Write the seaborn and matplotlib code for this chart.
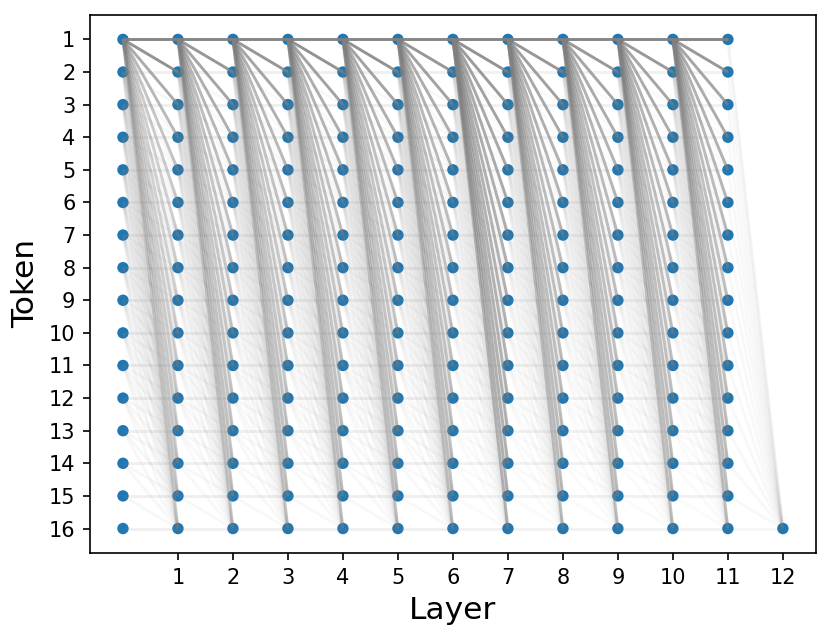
import matplotlib
matplotlib.use("Agg")
import matplotlib.pyplot as plt
import seaborn as sns
import pandas as pd
import numpy as np

n_tokens = 16
layers = list(range(0, 12))          # layers with a full column of tokens
final_layer = 12                     # only the last token is shown here
token_labels = [str(t) for t in range(1, 17)]
layer_ticks = list(range(1, 13))

# weight of the link from token 1 (sink) at layer l to token j at layer l+1
sink_w = [
    [0.95, 0.85, 0.65, 0.55, 0.45, 0.40, 0.35, 0.32, 0.30, 0.30, 0.28, 0.28, 0.27, 0.27, 0.26, 0.26],
    [0.95, 0.82, 0.70, 0.62, 0.55, 0.50, 0.46, 0.43, 0.40, 0.38, 0.36, 0.35, 0.35, 0.34, 0.34, 0.33],
    [0.95, 0.82, 0.70, 0.62, 0.55, 0.50, 0.46, 0.43, 0.40, 0.38, 0.36, 0.35, 0.35, 0.34, 0.34, 0.33],
    [0.95, 0.85, 0.72, 0.64, 0.58, 0.52, 0.48, 0.45, 0.42, 0.40, 0.38, 0.37, 0.36, 0.35, 0.35, 0.34],
    [0.95, 0.85, 0.72, 0.64, 0.58, 0.52, 0.48, 0.45, 0.42, 0.40, 0.38, 0.37, 0.36, 0.35, 0.35, 0.34],
    [0.95, 0.82, 0.72, 0.64, 0.58, 0.54, 0.50, 0.47, 0.44, 0.42, 0.40, 0.39, 0.38, 0.37, 0.36, 0.35],
    [0.95, 0.85, 0.78, 0.72, 0.68, 0.65, 0.62, 0.60, 0.58, 0.56, 0.55, 0.54, 0.53, 0.52, 0.51, 0.50],
    [0.95, 0.82, 0.74, 0.68, 0.62, 0.58, 0.54, 0.50, 0.48, 0.46, 0.45, 0.44, 0.43, 0.42, 0.42, 0.41],
    [0.95, 0.80, 0.70, 0.65, 0.60, 0.56, 0.52, 0.49, 0.46, 0.45, 0.44, 0.43, 0.42, 0.41, 0.40, 0.40],
    [0.95, 0.80, 0.70, 0.65, 0.60, 0.56, 0.52, 0.49, 0.46, 0.45, 0.44, 0.43, 0.42, 0.41, 0.40, 0.40],
    [0.95, 0.80, 0.70, 0.65, 0.60, 0.56, 0.52, 0.49, 0.46, 0.45, 0.44, 0.43, 0.42, 0.41, 0.40, 0.40],
]
# weight of the horizontal (token to itself) links per layer transition
self_w = [0.12, 0.12, 0.12, 0.12, 0.12, 0.12, 0.10, 0.10, 0.10, 0.10, 0.10]
# weight of the remaining faint links per layer transition
other_w = [0.06, 0.05, 0.05, 0.05, 0.05, 0.05, 0.04, 0.04, 0.04, 0.04, 0.04]
# last transition (layer 11 -> 12, only into token 16)
last_from_w = [0.10, 0.05, 0.05, 0.05, 0.05, 0.05, 0.05, 0.05, 0.05, 0.05, 0.05, 0.05, 0.05, 0.05, 0.05, 0.06]

fig = plt.figure(figsize=(830 / 150, 639 / 150), dpi=150)
ax = fig.add_axes([0.1084, 0.1346, 0.8746, 0.842])

# nodes
nodes = pd.DataFrame(
    [(l, t) for l in layers for t in range(1, n_tokens + 1)] + [(final_layer, n_tokens)],
    columns=["layer", "token"],
)
sns.scatterplot(data=nodes, x="layer", y="token", ax=ax, s=30, color="#1f77b4",
                edgecolor="none", zorder=1, legend=False)

# edges
for l in range(len(sink_w)):
    for i in range(1, n_tokens + 1):
        for j in range(i, n_tokens + 1):
            if i == 1:
                w = sink_w[l][j - 1]
            elif i == j:
                w = self_w[l]
            else:
                w = other_w[l]
            ax.plot([l, l + 1], [i, j], color="gray", alpha=w, lw=1.4,
                    solid_capstyle="butt", zorder=2)
for i in range(1, n_tokens + 1):
    ax.plot([11, 12], [i, n_tokens], color="gray", alpha=last_from_w[i - 1],
            lw=1.4, solid_capstyle="butt", zorder=2)

ax.set_xlim(-0.6, 12.6)
ax.set_ylim(n_tokens + 0.75, 0.25)
ax.set_xticks(layer_ticks)
ax.set_xticklabels([str(v) for v in layer_ticks])
ax.set_yticks(range(1, n_tokens + 1))
ax.set_yticklabels(token_labels)
ax.set_xlabel("Layer", fontsize=15)
ax.set_ylabel("Token", fontsize=15)
ax.tick_params(labelsize=10)

fig.savefig("out.png", dpi=150)
